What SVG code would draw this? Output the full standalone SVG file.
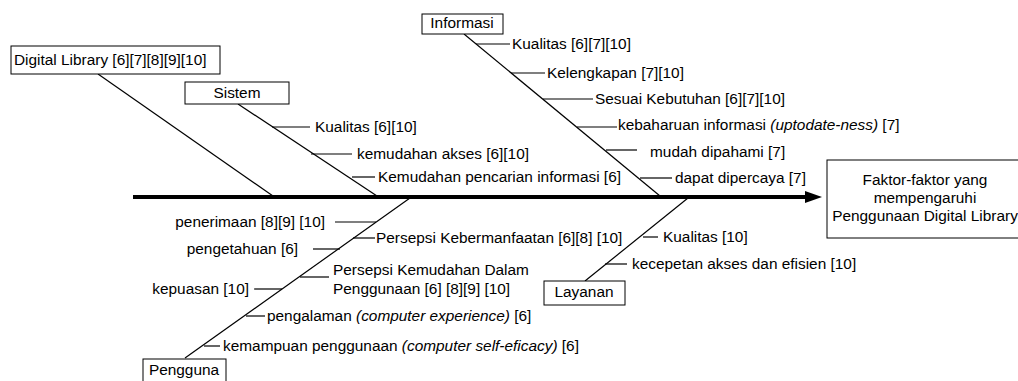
<svg xmlns="http://www.w3.org/2000/svg" width="1018" height="381" viewBox="0 0 1018 381">
<style>
text{font-family:"Liberation Sans",Arial,Helvetica,sans-serif;font-size:15.4px;fill:#000}
.box{fill:#fff;stroke:#000;stroke-width:1}
.bone{stroke:#000;stroke-width:1.2;fill:none}
.tick{stroke:#000;stroke-width:1.2;fill:none}
.spine{stroke:#000;stroke-width:4;fill:none}
.c{text-anchor:middle}
.e{text-anchor:end}
.i{font-style:italic}
</style>
<rect width="1018" height="381" fill="#fff"/>
<g id="connectors">
<line class="spine" x1="133" y1="197" x2="806" y2="197"/>
<polygon points="805,191 822,197 805,203" fill="#000"/>
<line class="bone" x1="98" y1="74" x2="273" y2="196"/>
<line class="bone" x1="238" y1="104" x2="377" y2="196"/>
<line class="bone" x1="464" y1="34" x2="660" y2="196"/>
<line class="bone" x1="688" y1="198" x2="585" y2="281"/>
<line class="bone" x1="410" y1="198" x2="185" y2="358"/>
<!-- Sistem ticks -->
<line class="tick" x1="272" y1="127" x2="310" y2="127"/>
<line class="tick" x1="311" y1="154" x2="352" y2="154"/>
<line class="tick" x1="352" y1="177" x2="375" y2="177"/>
<!-- Informasi ticks -->
<line class="tick" x1="476" y1="44" x2="510" y2="44"/>
<line class="tick" x1="511" y1="73" x2="545" y2="73"/>
<line class="tick" x1="543" y1="99" x2="593" y2="99"/>
<line class="tick" x1="577" y1="127" x2="617" y2="127"/>
<line class="tick" x1="606" y1="150" x2="637" y2="150"/>
<line class="tick" x1="640" y1="178" x2="672" y2="178"/>
<!-- Layanan ticks -->
<line class="tick" x1="643" y1="237" x2="658" y2="237"/>
<line class="tick" x1="605" y1="264" x2="627" y2="264"/>
<!-- Pengguna ticks -->
<line class="tick" x1="335" y1="222" x2="376" y2="222"/>
<line class="tick" x1="313" y1="249" x2="340" y2="249"/>
<line class="tick" x1="254" y1="289" x2="282" y2="289"/>
<line class="tick" x1="353" y1="238" x2="375" y2="238"/>
<line class="tick" x1="300" y1="277" x2="329" y2="277"/>
<line class="tick" x1="246" y1="316" x2="265" y2="316"/>
<line class="tick" x1="204" y1="346" x2="220" y2="346"/>
</g>
<g id="labels">
<text x="315" y="132">Kualitas [6][10]</text>
<text x="357" y="159">kemudahan akses [6][10]</text>
<text x="378" y="182">Kemudahan pencarian informasi [6]</text>
<text x="512" y="49">Kualitas [6][7][10]</text>
<text x="547" y="78">Kelengkapan [7][10]</text>
<text x="595" y="104">Sesuai Kebutuhan [6][7][10]</text>
<text x="618" y="130">kebaharuan informasi <tspan class="i">(uptodate-ness)</tspan> [7]</text>
<text x="650" y="157">mudah dipahami [7]</text>
<text x="675" y="183">dapat dipercaya [7]</text>
<text x="663" y="242">Kualitas [10]</text>
<text x="632" y="269">kecepetan akses dan efisien [10]</text>
<text x="325" y="227" class="e">penerimaan [8][9] [10]</text>
<text x="298" y="254" class="e">pengetahuan [6]</text>
<text x="249" y="294" class="e">kepuasan [10]</text>
<text x="376" y="243">Persepsi Kebermanfaatan [6][8] [10]</text>
<text x="333" y="275">Persepsi Kemudahan Dalam</text>
<text x="333" y="294">Penggunaan [6] [8][9] [10]</text>
<text x="267" y="321">pengalaman <tspan class="i">(computer experience)</tspan> [6]</text>
<text x="223" y="351">kemampuan penggunaan <tspan class="i">(computer self-eficacy)</tspan> [6]</text>
</g>
<g id="digital-library">
<rect class="box" x="11" y="46" width="209" height="28"/>
<text x="14" y="65">Digital Library [6][7][8][9][10]</text>
</g>
<g id="sistem">
<rect class="box" x="185" y="82" width="104" height="22"/>
<text x="237" y="98" class="c">Sistem</text>
</g>
<g id="informasi">
<rect class="box" x="422" y="14" width="81" height="20"/>
<text x="462" y="28" class="c">Informasi</text>
</g>
<g id="layanan">
<rect class="box" x="544" y="281" width="81" height="24"/>
<text x="584" y="297" class="c">Layanan</text>
</g>
<g id="pengguna">
<rect class="box" x="143" y="359" width="83" height="26"/>
<text x="184" y="375" class="c">Pengguna</text>
</g>
<g id="effect">
<rect class="box" x="827" y="160" width="200" height="78"/>
<text x="925" y="185" class="c">Faktor-faktor yang</text>
<text x="925" y="203" class="c">mempengaruhi</text>
<text x="925" y="221" class="c">Penggunaan Digital Library</text>
</g>
</svg>
